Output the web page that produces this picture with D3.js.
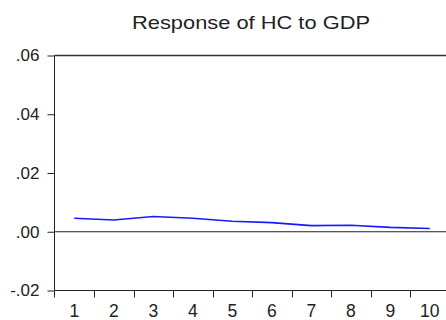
<!DOCTYPE html>
<html><head><meta charset="utf-8">
<script src="https://cdn.jsdelivr.net/npm/d3@7"></script>
<style>body{margin:0;background:#fff;overflow:hidden}</style>
</head><body>
<script>
const periods = [1,2,3,4,5,6,7,8,9,10];
const response = [0.0046,0.0040,0.0052,0.0046,0.0036,0.0031,0.0021,0.0022,0.0015,0.0011];
const yTicks = [-0.02,0,0.02,0.04,0.06];
const yTickLabels = ["-.02",".00",".02",".04",".06"];
const title = "Response of HC to GDP";

const W=446,H=320;
const svg=d3.select("body").append("svg").attr("width",W).attr("height",H);
const x=d3.scaleBand().domain(periods).range([54.5,449.5]);
const y=d3.scaleLinear().domain([-0.02,0.06]).range([290.5,55.5]);
const font="'Liberation Sans', Arial, sans-serif";

// left axis
const ya=svg.append("g").attr("transform","translate(54.5,0)")
 .call(d3.axisLeft(y).tickValues(yTicks).tickFormat((d,i)=>yTickLabels[i]).tickSize(7).tickPadding(8));
ya.select(".domain").attr("stroke","#222").attr("d",`M0,${y(0.06)}V${y(-0.02)}`);
ya.selectAll("line").attr("stroke","#222");
ya.selectAll("text").attr("font-family",font).attr("font-size",17).attr("fill","#222");

// bottom axis
const xa=svg.append("g").attr("transform",`translate(0,${y(-0.02)})`)
 .call(d3.axisBottom(x).tickSize(0).tickPadding(14));
xa.select(".domain").attr("stroke","#222").attr("d",`M54.5,0H449.5`);
xa.selectAll("text").attr("font-family",font).attr("font-size",17.5).attr("fill","#222");
svg.append("g").selectAll("line").data(periods.slice(1)).join("line")
 .attr("x1",d=>Math.round(x(d))+0.5).attr("x2",d=>Math.round(x(d))+0.5)
 .attr("y1",y(-0.02)).attr("y2",y(-0.02)+7).attr("stroke","#222");
svg.append("line").attr("x1",54.5).attr("x2",54.5).attr("y1",y(-0.02)).attr("y2",y(-0.02)+7).attr("stroke","#222");

// top frame
svg.append("line").attr("x1",54.5).attr("x2",449.5).attr("y1",y(0.06)).attr("y2",y(0.06)).attr("stroke","#333").attr("stroke-width",1.6);
// zero line
svg.append("line").attr("x1",54.5).attr("x2",449.5).attr("y1",y(0)).attr("y2",y(0)).attr("stroke","#222");

// response line
const line=d3.line().x((d,i)=>x(periods[i])+x.bandwidth()/2).y(d=>y(d));
svg.append("path").datum(response).attr("d",line).attr("fill","none").attr("stroke","#1a1aff").attr("stroke-width",1.6);

// title
svg.append("text").attr("x",251).attr("y",29).attr("text-anchor","middle")
 .attr("font-family",font).attr("font-size",19).attr("fill","#222")
 .attr("textLength",238).attr("lengthAdjust","spacingAndGlyphs").text(title);
</script>
</body></html>
